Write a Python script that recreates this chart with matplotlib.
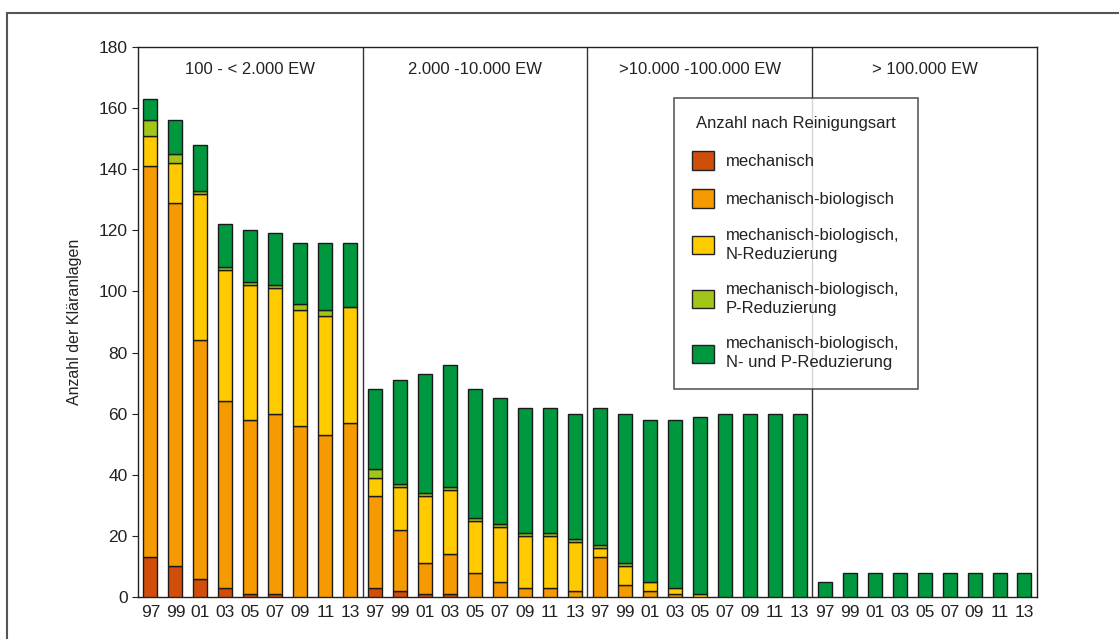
import matplotlib
matplotlib.use("Agg")
import matplotlib.pyplot as plt
from matplotlib.patches import Rectangle, Patch
from matplotlib import font_manager
import numpy as np

# ── Data ──────────────────────────────────────────────────────────────────────
years = ["97", "99", "01", "03", "05", "07", "09", "11", "13"]
groups = ["100 - < 2.000 EW", "2.000 -10.000 EW", ">10.000 -100.000 EW", "> 100.000 EW"]

# per group: 9 years each (97..13)
mech = [13, 10, 6, 3, 1, 1, 0, 0, 0,
        3, 2, 1, 1, 0, 0, 0, 0, 0,
        0, 0, 0, 0, 0, 0, 0, 0, 0,
        0, 0, 0, 0, 0, 0, 0, 0, 0]
mech_bio = [128, 119, 78, 61, 57, 59, 56, 53, 57,
            30, 20, 10, 13, 8, 5, 3, 3, 2,
            13, 4, 2, 1, 0, 0, 0, 0, 0,
            0, 0, 0, 0, 0, 0, 0, 0, 0]
n_red = [10, 13, 48, 43, 44, 41, 38, 39, 38,
         6, 14, 22, 21, 17, 18, 17, 17, 16,
         3, 6, 3, 2, 1, 0, 0, 0, 0,
         0, 0, 0, 0, 0, 0, 0, 0, 0]
p_red = [5, 3, 1, 1, 1, 1, 2, 2, 0,
         3, 1, 1, 1, 1, 1, 1, 1, 1,
         1, 1, 0, 0, 0, 0, 0, 0, 0,
         0, 0, 0, 0, 0, 0, 0, 0, 0]
np_red = [7, 11, 15, 14, 17, 17, 20, 22, 21,
          26, 34, 39, 40, 42, 41, 41, 41, 41,
          45, 49, 53, 55, 58, 60, 60, 60, 60,
          5, 8, 8, 8, 8, 8, 8, 8, 8]

series_labels = ["mechanisch", "mechanisch-biologisch",
                 "mechanisch-biologisch,\nN-Reduzierung",
                 "mechanisch-biologisch,\nP-Reduzierung",
                 "mechanisch-biologisch,\nN- und P-Reduzierung"]
colors = ["#D14E0A", "#F59A00", "#FFCB00", "#A2C519", "#00983F"]

# ── Fonts ─────────────────────────────────────────────────────────────────────
avail = {f.name for f in font_manager.fontManager.ttflist}
narrow = "Liberation Sans Narrow" if "Liberation Sans Narrow" in avail else "Liberation Sans"
plt.rcParams["font.family"] = [narrow, "DejaVu Sans"]

fig = plt.figure(figsize=(11.19, 6.39), dpi=100)
ax = fig.add_axes([0.1233, 0.0657, 0.8034, 0.8607])

# outer frame (cropped at right / bottom like the original)
fig.patches.append(Rectangle((7 / 1119, -0.05), 1.2, 1 - 13 / 639 + 0.05,
                             transform=fig.transFigure, fill=False,
                             edgecolor="#555555", linewidth=1.5))

data = [mech, mech_bio, n_red, p_red, np_red]
x = np.arange(len(mech))
bottom = np.zeros(len(mech))
for vals, col in zip(data, colors):
    vals = np.array(vals, dtype=float)
    m = vals > 0
    ax.bar(x[m], vals[m], width=0.56, bottom=bottom[m], color=col,
           edgecolor="#1a1a1a", linewidth=1.0, zorder=3)
    bottom += vals

ax.set_xlim(-0.5, len(mech) - 0.5)
ax.set_ylim(0, 180)
ax.set_yticks(range(0, 181, 20))
ax.set_xticks(x)
ax.set_xticklabels(years * 4)
ax.tick_params(axis="x", length=0, labelsize=12.5, pad=6, colors="#222222")
ax.tick_params(axis="y", length=4, labelsize=12.5, direction="out", colors="#222222")
for s in ax.spines.values():
    s.set_linewidth(1.0)
    s.set_color("#222222")
ax.set_ylabel("Anzahl der Kläranlagen", fontsize=11.5, labelpad=12, color="#222222")

# group dividers and headers
for g, name in enumerate(groups):
    if g > 0:
        ax.axvline(g * 9 - 0.5, color="#333333", linewidth=1.0, zorder=2)
    ax.text(g * 9 + 4, 172.5, name, ha="center", va="center", fontsize=12,
            color="#222222")

handles = [Patch(facecolor=c, edgecolor="#222222", linewidth=1.0) for c in colors]
leg = ax.legend(handles, series_labels, title="Anzahl nach Reinigungsart",
                loc="upper left", bbox_to_anchor=(674 / 1119, 1 - 98 / 639),
                bbox_transform=fig.transFigure, borderaxespad=0,
                frameon=True, fancybox=False,
                fontsize=12, title_fontsize=12, handlelength=1.3, handleheight=1.3,
                labelspacing=1.2, borderpad=1.1, handletextpad=0.7)
leg.get_frame().set_edgecolor("#333333")
leg.get_frame().set_linewidth(1.2)
leg.get_title().set_color("#222222")
leg._legend_box.align = "center"
for t in leg.get_texts():
    t.set_color("#222222")
    t.set_linespacing(1.35)
leg.set_zorder(5)

fig.savefig("out.png", dpi=100)
